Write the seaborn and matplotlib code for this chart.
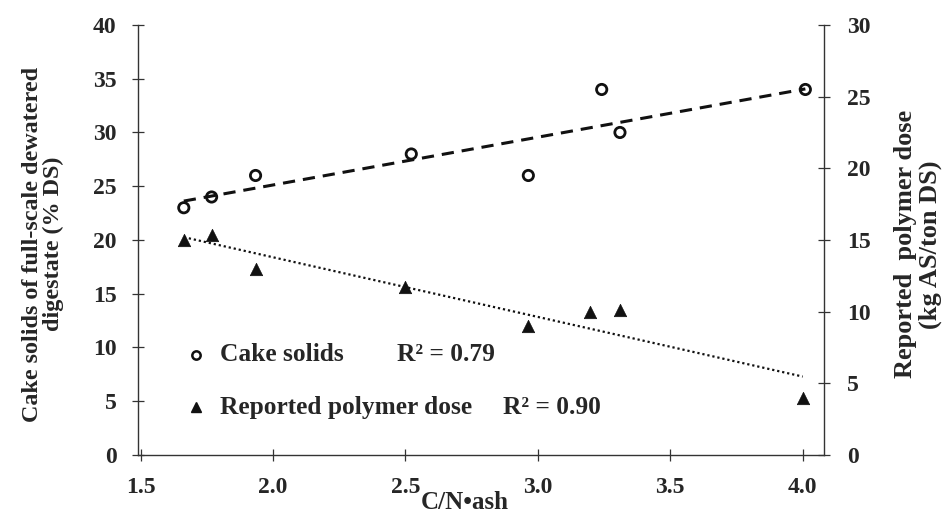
import numpy as np
import pandas as pd
import matplotlib
matplotlib.use("Agg")
import matplotlib.pyplot as plt
import seaborn as sns

# C/N*ash ratio and measured quantities
cake_cn = [1.663, 1.768, 1.934, 2.522, 2.964, 3.241, 3.310, 4.010]
cake_solids = [23.0, 24.0, 26.0, 28.0, 26.0, 34.0, 30.0, 34.0]

dose_cn = [1.663, 1.770, 1.934, 2.500, 2.964, 3.195, 3.310, 4.000]
polymer_dose = [15.0, 15.35, 12.95, 11.75, 9.0, 10.0, 10.15, 3.95]

r2_labels = ["R\u00b2 = 0.79", "R\u00b2 = 0.90"]
series_names = ["Cake solids", "Reported polymer dose"]
x_ticks = [1.5, 2.0, 2.5, 3.0, 3.5, 4.0]
left_ticks = [0, 5, 10, 15, 20, 25, 30, 35, 40]
right_ticks = [0, 5, 10, 15, 20, 25, 30]

cake_df = pd.DataFrame({"cn": cake_cn, "solids": cake_solids})
dose_df = pd.DataFrame({"cn": dose_cn, "dose": polymer_dose})

sns.set_style("ticks")
plt.rcParams["font.family"] = ["Liberation Serif", "DejaVu Serif"]
plt.rcParams["font.weight"] = "bold"
plt.rcParams["axes.labelweight"] = "bold"

INK = "#111111"

fig = plt.figure(figsize=(9.47, 5.15), dpi=100)
ax = fig.add_axes([0.1457, 0.1165, 0.7243, 0.835])
ax2 = ax.twinx()

# cake solids on the left axis
sns.scatterplot(data=cake_df, x="cn", y="solids", ax=ax, marker="o", s=55,
                facecolor="none", edgecolor=INK, linewidth=2.0, zorder=3)
sns.regplot(data=cake_df, x="cn", y="solids", ax=ax, scatter=False, ci=None,
            truncate=True, color=INK,
            line_kws=dict(linestyle=(0, (4, 2.6)), linewidth=2.2))

# polymer dose on the right axis
sns.scatterplot(data=dose_df, x="cn", y="dose", ax=ax2, marker="^", s=80,
                color=INK, edgecolor=INK, linewidth=0.5, zorder=3)
sns.regplot(data=dose_df, x="cn", y="dose", ax=ax2, scatter=False, ci=None,
            truncate=True, color=INK,
            line_kws=dict(linestyle=(0, (1, 1.3)), linewidth=1.6))

ax.set_xlim(1.49, 4.08)
ax.set_ylim(0, 40)
ax2.set_ylim(0, 30)
ax.set_xticks(x_ticks)
ax.set_xticklabels([f"{t:.1f}" for t in x_ticks])
ax.set_yticks(left_ticks)
ax2.set_yticks(right_ticks)

for a in (ax, ax2):
    a.spines["top"].set_visible(False)
    for s in a.spines.values():
        s.set_color("#333333")
        s.set_linewidth(1.0)
    a.tick_params(axis="both", direction="inout", length=9, width=0.9,
                  color="#333333", labelsize=17)
ax2.spines["left"].set_visible(False)
ax2.spines["bottom"].set_visible(False)
ax.spines["right"].set_visible(False)
ax.tick_params(axis="x", pad=11)
ax.tick_params(axis="y", pad=11)
ax2.tick_params(axis="y", pad=12)

for lab in ax.get_xticklabels() + ax.get_yticklabels() + ax2.get_yticklabels():
    lab.set_fontweight("bold")

ax.set_xlabel("C/N\u2022ash", fontsize=18, fontweight="bold")
ax.xaxis.set_label_coords(0.477, -0.083)
ax.set_ylabel("Cake solids of full-scale dewatered\ndigestate (% DS)",
              fontsize=17.4, fontweight="bold", linespacing=1.0)
ax.yaxis.set_label_coords(-0.108, 0.49)
ax2.set_ylabel("Reported  polymer dose\n(kg AS/ton DS)", fontsize=19,
               fontweight="bold", linespacing=1.12)
ax2.yaxis.set_label_coords(1.102, 0.49)

# series key with R² values
key_rows = [0.2326, 0.1116]
ax.plot([0.0845], [key_rows[0]], transform=ax.transAxes, linestyle="none",
        marker="o", markersize=6, markerfacecolor="none", markeredgecolor=INK,
        markeredgewidth=1.8, clip_on=False)
ax.plot([0.0845], [key_rows[1]], transform=ax.transAxes, linestyle="none",
        marker="^", markersize=7, color=INK, clip_on=False)
for row, name in zip(key_rows, series_names):
    ax.text(0.1195, row, name, transform=ax.transAxes, fontsize=18.3,
            fontweight="bold", va="center", ha="left")
ax.text(0.3776, key_rows[0], r2_labels[0], transform=ax.transAxes, fontsize=18.3,
        fontweight="bold", va="center", ha="left")
ax.text(0.532, key_rows[1], r2_labels[1], transform=ax.transAxes, fontsize=18.3,
        fontweight="bold", va="center", ha="left")

fig.savefig("out.png", dpi=100)
